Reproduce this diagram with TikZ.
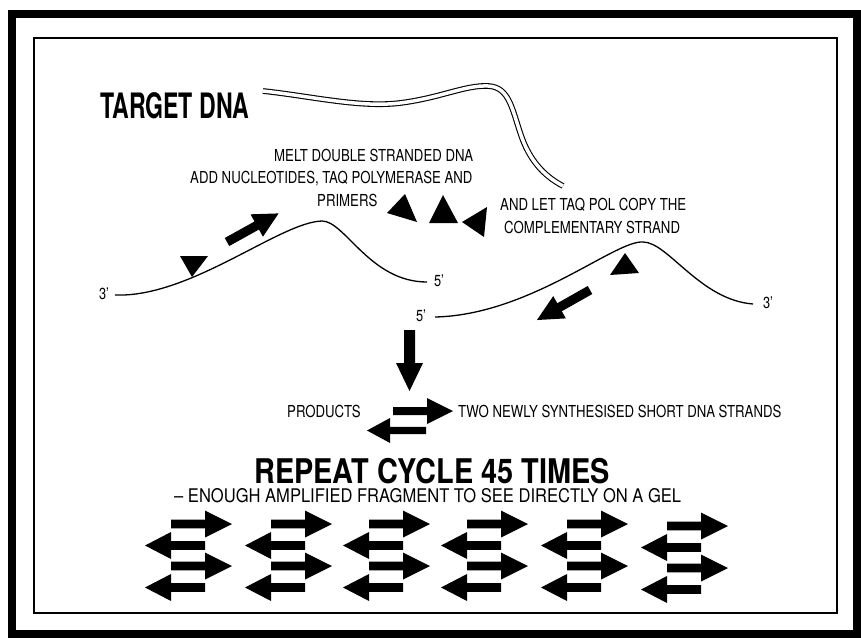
\documentclass[tikz,border=0pt]{standalone}
\usepackage{fontspec}
\setmainfont{TeX Gyre Heros}
\newfontfamily\smallf[FakeStretch=0.8]{TeX Gyre Heros}
\newfontfamily\titlef[FakeStretch=0.66]{TeX Gyre Heros}
\newfontfamily\repf[FakeStretch=0.85]{TeX Gyre Heros}
\newfontfamily\enf[FakeStretch=0.88]{TeX Gyre Heros}
\newcommand{\farrow}[7]{% x, y (tail centre), angle, shaft length, head length, shaft half width, head half width
  \fill[shift={(#1,#2)},rotate=#3] (0,-#6) -- (#4,-#6) -- (#4,-#7) -- ({#4+#5},0) -- (#4,#7) -- (#4,#6) -- (0,#6) -- cycle;}
\newcommand{\fgroup}[2]{% x0 (shaft left), y0 (first row)
  \farrow{#1}{#2}{0}{34}{27}{4.3}{13.5}
  \farrow{#1+34}{#2+21.5}{180}{34}{26}{4.3}{13.5}
  \farrow{#1}{#2+42}{0}{34}{27}{4.3}{13.5}
  \farrow{#1+34}{#2+63.5}{180}{34}{26}{4.3}{13.5}}
\begin{document}
\begin{tikzpicture}[x=1pt,y=-1pt,
  txt/.style={inner sep=0pt,anchor=base west,font=\smallf\fontsize{16.5}{18}\selectfont},
  lbl/.style={inner sep=0pt,font=\smallf\fontsize{16}{18}\selectfont},
  titletxt/.style={inner sep=0pt,anchor=base west,font=\titlef\bfseries\fontsize{35}{38}\selectfont},
  reptxt/.style={inner sep=0pt,anchor=base west,font=\repf\bfseries\fontsize{34}{36}\selectfont},
  entxt/.style={inner sep=0pt,anchor=base west,font=\enf\fontsize{18.8}{20}\selectfont},
  strand/.style={line width=1.3pt},
  dsdna/.style={line width=1.1pt,double=white,double distance=3.5pt}]
\useasboundingbox (0,0) rectangle (861,637);
\fill[white] (0,0) rectangle (861,637);
% frames
\draw[line width=8pt] (12,14) rectangle (857,634);
\draw[line width=1.8pt] (34,38) rectangle (837,613);
% title
\node[titletxt] (target) at (100,118) {TARGET DNA};
% double stranded DNA
\draw[dsdna] (263,91) .. controls (310,96) and (360,108) .. (400,103)
  .. controls (440,98) and (465,85) .. (488,86)
  .. controls (510,87) and (512,110) .. (522,138)
  .. controls (532,165) and (548,178) .. (563,186);
% texts
\node[txt] (melt) at (274,161) {MELT DOUBLE STRANDED DNA};
\node[txt] (add) at (190,183) {ADD NUCLEOTIDES, TAQ POLYMERASE AND};
\node[txt] (prim) at (317,206) {PRIMERS};
\node[txt] (andlet) at (500,210) {AND LET TAQ POL COPY THE};
\node[txt] (compl) at (504,233) {COMPLEMENTARY STRAND};
% single strands
\node[lbl] (u3) at (104,294) {3’};
\node[lbl] (u5) at (439,281) {5’};
\node[lbl] (l5) at (421,316) {5’};
\node[lbl] (r3) at (768,303) {3’};
\draw[strand] (115,295) .. controls (190,298) and (280,222) .. (322,221)
  .. controls (345,221) and (370,282) .. (427,282);
\draw[strand] (435,317) .. controls (530,315) and (615,240) .. (643,242)
  .. controls (668,242) and (700,300) .. (753,304);
% primers
\fill (180,256) -- (208,256) -- (192,277) -- cycle;
\fill (387,213) -- (405,194) -- (417,222) -- cycle;
\fill (429,223) -- (443,195) -- (458,223) -- cycle;
\fill (462,222) -- (487,207) -- (484,237) -- cycle;
\fill (610,275) -- (625,253) -- (639,273) -- cycle;
% extension arrows
\farrow{227}{242}{29}{34}{25}{4.6}{12.8}
\farrow{590}{290}{209.5}{35}{26}{4.6}{12.8}
% down arrow
\farrow{409.5}{330}{-90}{33}{28}{5.5}{13.5}
% products
\farrow{393}{411}{0}{34}{26}{4}{13}
\farrow{426}{430.5}{180}{36}{23}{3.6}{12.5}
\node[txt] (prod) at (287,417) {PRODUCTS};
\node[txt] (two) at (458,417) {TWO NEWLY SYNTHESISED SHORT DNA STRANDS};
% repeat
\node[reptxt] (repeat) at (254,483) {REPEAT CYCLE 45 TIMES};
\node[entxt] (enough) at (174,502.5) {– ENOUGH AMPLIFIED FRAGMENT TO SEE DIRECTLY ON A GEL};
% amplified fragments
\fgroup{171}{524}
\fgroup{271}{524}
\fgroup{369}{524}
\fgroup{467}{524}
\fgroup{567}{524}
\fgroup{667}{526}
\end{tikzpicture}
\end{document}
